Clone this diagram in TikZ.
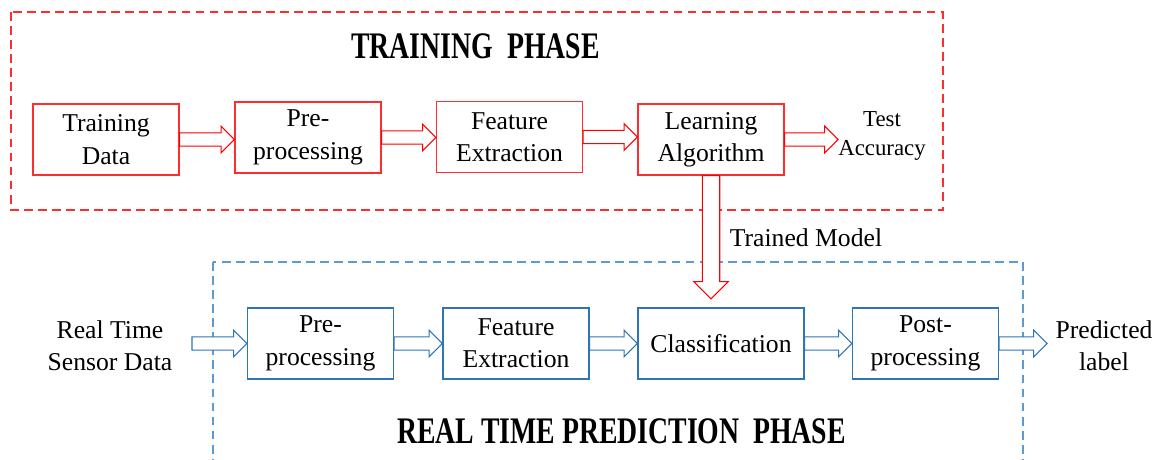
\documentclass[tikz,border=0pt]{standalone}
\usepackage{fontspec}
\setmainfont{Liberation Serif}
\usepackage{tikz}
\usetikzlibrary{calc,positioning}
\definecolor{trainred}{RGB}{255,45,45}
\definecolor{predblue}{RGB}{46,117,182}
\definecolor{phaseblue}{RGB}{91,155,213}
\tikzset{
  stagebox/.style={draw=#1,line width=0.7pt,minimum width=2.92cm,minimum height=1.42cm,
    inner sep=2pt,align=center,font=\fontsize{14.6}{18.4}\selectfont},
  hollow/.style={draw=#1,fill=white,line width=0.6pt,line join=miter}
}
% open block arrow, [size factor]{colour}{from}{tip}
\newcommand{\fatarrow}[4][1]{%
  \path (#3) coordinate (fa-s) (#4) coordinate (fa-e);
  \path ($(fa-e)!#1*0.266cm!(fa-s)$) coordinate (fa-h);
  \draw[hollow=#2] ($(fa-s)!#1*0.134cm!90:(fa-e)$) -- ($(fa-h)!#1*0.134cm!90:(fa-e)$)
    -- ($(fa-h)!#1*0.266cm!90:(fa-e)$) -- (fa-e) -- ($(fa-h)!#1*0.266cm!-90:(fa-e)$)
    -- ($(fa-h)!#1*0.134cm!-90:(fa-e)$) -- ($(fa-s)!#1*0.134cm!-90:(fa-e)$) -- cycle;
}

\begin{document}
\begin{tikzpicture}[
  phasebox/.style={draw=#1,dash pattern=on 5pt off 3pt,line width=0.8pt},
  phasetitle/.style={font=\fontsize{15.8}{20}\selectfont\bfseries},
  sidetext/.style={align=center,font=\fontsize{14.6}{18.4}\selectfont}
]
  \clip (0,0) rectangle (23.22,-9.18);

  % training phase
  \draw[phasebox=trainred] (0.22,-0.24) rectangle (18.86,-4.20);
  \node[phasetitle] (trtitle) at (9.51,-0.92) {\scalebox{1}[1.35]{TRAINING\ \ PHASE}};
  \node[stagebox=trainred] (td)  at (2.12,-2.79)  {Training\\Data};
  \node[stagebox=trainred] (tpp) at (6.16,-2.75)  {Pre-\\processing};
  \node[stagebox=trainred] (tfe) at (10.19,-2.74) {Feature\\Extraction};
  \node[stagebox=trainred] (la)  at (14.22,-2.79) {Learning\\Algorithm};
  \node[sidetext,font=\fontsize{13}{17}\selectfont] (acc) at (17.64,-2.72) {Test\\Accuracy};
  \coordinate (acc-in) at (16.76,-2.72);

  \fatarrow{red}{td.east}{td.east -| tpp.west}
  \fatarrow{red}{tpp.east}{tpp.east -| tfe.west}
  \fatarrow{red}{tfe.east}{tfe.east -| la.west}
  \fatarrow{red}{la.east}{la.east -| acc-in}

  % real time prediction phase
  \draw[phasebox=phaseblue] (4.26,-5.24) rectangle (20.46,-9.6);
  \node[phasetitle] (rttitle) at (12.43,-8.62) {\scalebox{1}[1.35]{REAL TIME PREDICTION\ \ PHASE}};
  \node[stagebox=predblue] (rpp)  at (6.41,-6.87)  {Pre-\\processing};
  \node[stagebox=predblue] (rfe)  at (10.32,-6.87) {Feature\\Extraction};
  \node[stagebox=predblue,minimum width=3.32cm] (cls) at (14.42,-6.87) {Classification};
  \node[stagebox=predblue] (post) at (18.51,-6.87) {Post-\\processing};
  \node[sidetext] (sensor) at (2.20,-6.92) {Real Time\\Sensor Data};
  \node[sidetext] (pred)   at (22.08,-6.92) {Predicted\\label};
  \coordinate (sensor-out) at (3.84,-6.87);
  \coordinate (pred-in) at (20.94,-6.87);

  \fatarrow{predblue}{sensor-out}{sensor-out -| rpp.west}
  \fatarrow{predblue}{rpp.east}{rpp.east -| rfe.west}
  \fatarrow{predblue}{rfe.east}{rfe.east -| cls.west}
  \fatarrow{predblue}{cls.east}{cls.east -| post.west}
  \fatarrow{predblue}{post.east}{post.east -| pred-in}

  % trained model handed over
  \coordinate (tm-in) at ($(la.south |- cls.north)+(0,0.17)$);
  \fatarrow[1.3]{red}{la.south}{tm-in}
  \node[sidetext] (tm) at (16.12,-4.76) {Trained Model};
\end{tikzpicture}
\end{document}
